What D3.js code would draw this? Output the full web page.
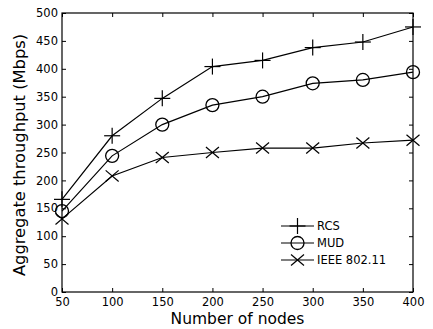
<!DOCTYPE html>
<html><head><meta charset="utf-8">
<script src="https://cdn.jsdelivr.net/npm/d3@7"></script>
<style>body{margin:0;background:#fff}svg{display:block}text{font-family:"DejaVu Sans",sans-serif;fill:#000}</style>
</head><body>
<script>
const nodes = [50,100,150,200,250,300,350,400];
const rcs  = [166,280,347,404,415,438,448,475];
const mud  = [145,244,300,335,350,374,380,394];
const ieee = [131,208,241,250,258,258,267,272];
const seriesNames = ["RCS","MUD","IEEE 802.11"];
const xTicks = [50,100,150,200,250,300,350,400];
const yTicks = [0,50,100,150,200,250,300,350,400,450,500];

const W=433,H=329;
const m={l:62,r:20,t:13,b:37};
const svg=d3.select("body").append("svg").attr("width",W).attr("height",H);
const x=d3.scaleLinear().domain([50,400]).range([m.l,W-m.r]);
const y=d3.scaleLinear().domain([0,500]).range([H-m.b,m.t]);

const g=svg.append("g");
g.append("rect").attr("x",x(50)).attr("y",y(500)).attr("width",x(400)-x(50)).attr("height",y(0)-y(500))
 .attr("fill","none").attr("stroke","#000").attr("stroke-width",1.2);

const ax=d3.axisBottom(x).tickValues(xTicks).tickSizeInner(-4).tickSizeOuter(0).tickPadding(6);
const axB=g.append("g").attr("transform",`translate(0,${y(0)})`).call(ax);
const axT=g.append("g").attr("transform",`translate(0,${y(500)})`).call(d3.axisTop(x).tickValues(xTicks).tickSizeInner(-4).tickSizeOuter(0).tickFormat(""));
const axL=g.append("g").attr("transform",`translate(${x(50)},0)`).call(d3.axisLeft(y).tickValues(yTicks).tickSizeInner(-4).tickSizeOuter(0).tickPadding(4));
const axR=g.append("g").attr("transform",`translate(${x(400)},0)`).call(d3.axisRight(y).tickValues(yTicks).tickSizeInner(-4).tickSizeOuter(0).tickFormat(""));
[axB,axT,axL,axR].forEach(a=>{a.select(".domain").remove();a.selectAll("line").attr("stroke","#000");a.selectAll("text").style("font-size","11.5px").attr("fill","#000").style("font-family",'"DejaVu Sans",sans-serif');});

svg.append("text").attr("x",(x(50)+x(400))/2).attr("y",H-5).attr("text-anchor","middle").style("font-size","15.5px").text("Number of nodes");
svg.append("text").attr("transform",`translate(25,155) rotate(-90)`).attr("text-anchor","middle").style("font-size","16.3px").text("Aggregate throughput (Mbps)");

const line=d3.line().x((d,i)=>x(nodes[i])).y(d=>y(d));
const data=[rcs,mud,ieee];
const R=8;
function marker(sel,type,cx,cy){
  if(type===0){
    sel.append("line").attr("x1",cx-R).attr("x2",cx+R).attr("y1",cy).attr("y2",cy).attr("stroke","#000").attr("stroke-width",1.2);
    sel.append("line").attr("x1",cx).attr("x2",cx).attr("y1",cy-R).attr("y2",cy+R).attr("stroke","#000").attr("stroke-width",1.2);
  } else if(type===1){
    sel.append("circle").attr("cx",cx).attr("cy",cy).attr("r",6.5).attr("fill","none").attr("stroke","#000").attr("stroke-width",1.3);
  } else {
    const r=6.5;
    sel.append("line").attr("x1",cx-r).attr("x2",cx+r).attr("y1",cy-r*0.85).attr("y2",cy+r*0.85).attr("stroke","#000").attr("stroke-width",1.2);
    sel.append("line").attr("x1",cx-r).attr("x2",cx+r).attr("y1",cy+r*0.85).attr("y2",cy-r*0.85).attr("stroke","#000").attr("stroke-width",1.2);
  }
}
data.forEach((s,k)=>{
  g.append("path").datum(s).attr("d",line).attr("fill","none").attr("stroke","#000").attr("stroke-width",1.2);
  const mg=g.append("g");
  s.forEach((v,i)=>marker(mg,k,x(nodes[i]),y(v)));
});

const lg=svg.append("g");
const ly=[226,243,260];
seriesNames.forEach((n,k)=>{
  lg.append("line").attr("x1",281).attr("x2",314).attr("y1",ly[k]).attr("y2",ly[k]).attr("stroke","#000").attr("stroke-width",1.2);
  marker(lg,k,297.5,ly[k]);
  lg.append("text").attr("x",317).attr("y",ly[k]+4).style("font-size","11.5px").text(n);
});
</script>
</body></html>
